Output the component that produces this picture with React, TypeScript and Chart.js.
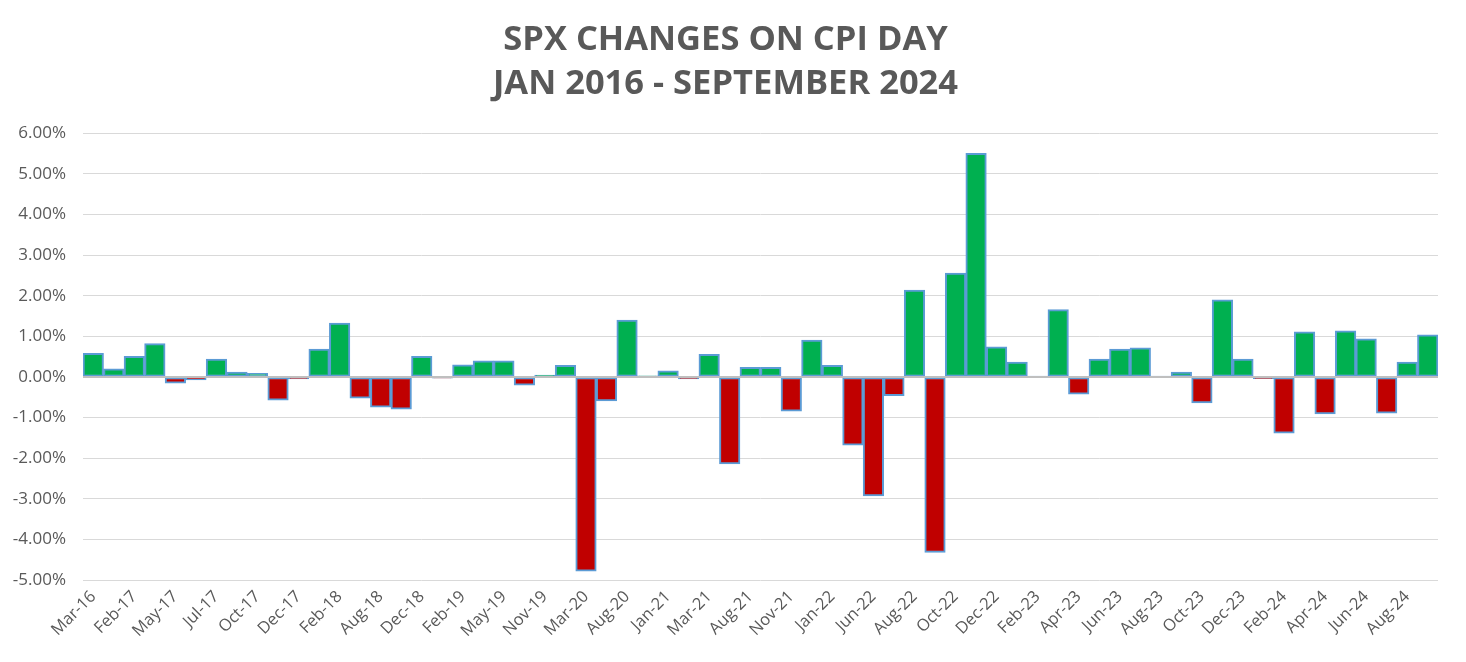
import React, { useEffect, useRef } from "react";
import { Chart, registerables } from "chart.js";

Chart.register(...registerables);

const categories: string[] = [
  "Mar-16", "Jan-17", "Feb-17", "Apr-17", "May-17", "Jun-17", "Jul-17", "Sep-17", "Oct-17", "Nov-17",
  "Dec-17", "Jan-18", "Feb-18", "Jul-18", "Aug-18", "Oct-18", "Dec-18", "Jan-19", "Feb-19", "Apr-19",
  "May-19", "Oct-19", "Nov-19", "Jan-20", "Mar-20", "Jul-20", "Aug-20", "Dec-20", "Jan-21", "Feb-21",
  "Mar-21", "Jul-21", "Aug-21", "Oct-21", "Nov-21", "Dec-21", "Jan-22", "May-22", "Jun-22", "Jul-22",
  "Aug-22", "Sep-22", "Oct-22", "Nov-22", "Dec-22", "Jan-23", "Feb-23", "Mar-23", "Apr-23", "May-23",
  "Jun-23", "Jul-23", "Aug-23", "Sep-23", "Oct-23", "Nov-23", "Dec-23", "Jan-24", "Feb-24", "Mar-24",
  "Apr-24", "May-24", "Jun-24", "Jul-24", "Aug-24", "Sep-24",
];

const spxChange: number[] = [
  0.58, 0.2, 0.51, 0.82, -0.15, -0.07, 0.44, 0.12, 0.09, -0.57,
  -0.05, 0.69, 1.33, -0.52, -0.74, -0.79, 0.51, -0.03, 0.3, 0.4,
  0.4, -0.2, 0.05, 0.29, -4.78, -0.59, 1.4, 0.03, 0.15, -0.05,
  0.56, -2.14, 0.24, 0.24, -0.84, 0.91, 0.29, -1.68, -2.93, -0.46,
  2.14, -4.32, 2.56, 5.51, 0.74, 0.37, 0.02, 1.66, -0.42, 0.44,
  0.69, 0.72, 0.02, 0.12, -0.64, 1.9, 0.44, -0.04, -1.38, 1.11,
  -0.91, 1.14, 0.94, -0.89, 0.37, 1.04,
];

const titleLines: string[] = ["SPX CHANGES ON CPI DAY", "JAN 2016 - SEPTEMBER 2024"];

const POS = "#00B050";
const NEG = "#C00000";
const EDGE = "#5B9BD5";
const TEXT = "#595959";

const zeroLinePlugin = {
  id: "zeroLine",
  afterDatasetsDraw(chart: any) {
    const { ctx, chartArea, scales } = chart;
    const y = scales.y.getPixelForValue(0);
    ctx.save();
    ctx.strokeStyle = "#BFBFBF";
    ctx.lineWidth = 2;
    ctx.beginPath();
    ctx.moveTo(chartArea.left, y);
    ctx.lineTo(chartArea.right, y);
    ctx.stroke();
    ctx.restore();
  },
};

export default function App() {
  const ref = useRef<HTMLCanvasElement | null>(null);

  useEffect(() => {
    if (!ref.current) return;
    const chart = new Chart(ref.current, {
      type: "bar",
      data: {
        labels: categories,
        datasets: [
          {
            data: spxChange,
            backgroundColor: spxChange.map((v) => (v >= 0 ? POS : NEG)),
            borderColor: EDGE,
            borderWidth: 2,
            borderSkipped: false,
            categoryPercentage: 1,
            barPercentage: 1,
          },
        ],
      },
      options: {
        animation: false,
        responsive: true,
        maintainAspectRatio: false,
        layout: { padding: { left: 13, right: 28, top: 10, bottom: 14 } },
        plugins: {
          legend: { display: false },
          tooltip: { enabled: false },
          title: {
            display: true,
            text: titleLines,
            color: TEXT,
            font: { family: "'Open Sans'", size: 34.5, weight: "bold", lineHeight: 1.28 },
            padding: { top: 8, bottom: 27 },
          },
        },
        scales: {
          x: {
            grid: { display: false, drawTicks: false },
            border: { display: false },
            ticks: {
              autoSkip: false,
              maxRotation: 45,
              minRotation: 45,
              padding: 7,
              color: TEXT,
              font: { family: "'Open Sans'", size: 16.5 },
              callback: (_v: any, i: number) => (i % 2 === 0 ? categories[i] : ""),
            },
          },
          y: {
            min: -5,
            max: 6,
            afterFit: (scale: any) => {
              scale.width = 70;
            },
            grid: { color: "#D9D9D9", lineWidth: 1, drawTicks: false },
            border: { display: false },
            ticks: {
              stepSize: 1,
              padding: 17,
              color: TEXT,
              font: { family: "'Open Sans'", size: 17 },
              callback: (v: any) => Number(v).toFixed(2) + "%",
            },
          },
        },
      },
      plugins: [zeroLinePlugin],
    });
    return () => chart.destroy();
  }, []);

  return (
    <div style={{ position: "fixed", left: 0, top: 0, width: 1466, height: 662, background: "#fff" }}>
      <canvas ref={ref} />
    </div>
  );
}
